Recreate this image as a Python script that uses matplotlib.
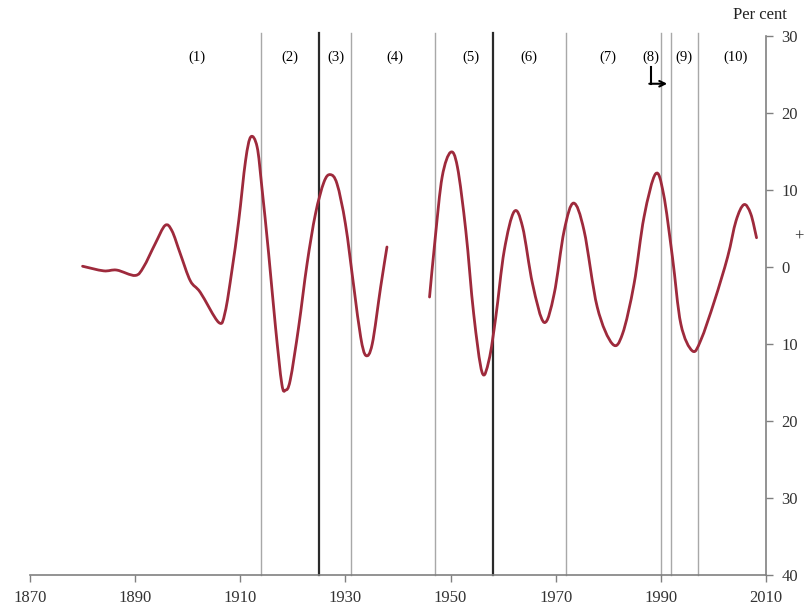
import numpy as np
import matplotlib
matplotlib.use("Agg")
import matplotlib.pyplot as plt
from matplotlib.path import Path
from matplotlib.patches import PathPatch

# growth cycle readings, two segments (gap over the war years)
years_a = [1880, 1884, 1886.5, 1890, 1891.6, 1893.8, 1895.7, 1897, 1898.6, 1900.5,
           1902.4, 1905.9, 1907.1, 1908.4, 1909.7, 1911, 1912, 1913.2, 1914.1,
           1915.4, 1916.7, 1917.9, 1918.6, 1919.5, 1921.1, 1922.7, 1924.3,
           1925.9, 1927.1, 1928.4, 1930, 1931.6, 1932.9, 1933.9, 1935.1,
           1936.7, 1937.9]
values_a = [0.1, -0.5, -0.4, -1.1, 0.0, 3.0, 5.4, 4.7, 1.7, -1.8,
            -3.3, -7.2, -5.9, -0.5, 6.0, 13.8, 16.9, 15.6, 10.4,
            1.7, -7.8, -15.2, -16.0, -14.7, -7.8, 0.4, 6.9,
            11.0, 12.0, 10.8, 5.6, -2.6, -9.1, -11.5, -10.0,
            -2.6, 2.6]

years_b = [1946, 1947.1, 1948.4, 1950, 1951.3, 1952.9, 1954.4, 1956, 1957.3,
           1958.6, 1960.2, 1962.1, 1963.7, 1965.6, 1967.8, 1969.7, 1971.6,
           1973.4, 1975.4, 1977.9, 1980.8, 1982.7, 1984.9, 1986.8,
           1989, 1990.5, 1992.2, 1993.8, 1996, 1997.6, 2000.2, 2002.7,
           2004.3, 2005.8, 2007.1, 2008.2]
values_b = [-3.9, 3.9, 11.7, 14.9, 13.0, 4.7, -6.1, -13.7, -12.1,
            -6.5, 2.1, 7.2, 5.2, -2.2, -7.2, -3.5, 4.7,
            8.3, 4.7, -5.2, -10.0, -8.7, -2.2, 6.5,
            12.1, 9.5, 1.3, -7.4, -10.9, -9.5, -4.4, 1.3,
            6.0, 8.1, 6.9, 3.8]

# period boundaries
major_breaks = [1925, 1958]
minor_breaks = [1914, 1931, 1947, 1972, 1990, 1992, 1997]

period_labels = ["(1)", "(2)", "(3)", "(4)", "(5)", "(6)", "(7)", "(8)", "(9)", "(10)"]
period_x = [1901.7, 1919.5, 1928.1, 1939.5, 1953.8, 1964.9, 1979.9, 1988.1, 1994.4, 2004.3]

x_ticks = [1870, 1890, 1910, 1930, 1950, 1970, 1990, 2010]
y_ticks = [30, 20, 10, 0, -10, -20, -30, -40]

CURVE = "#9e2a3c"
SERIF = "Liberation Serif"


def smooth_path(xs, ys):
    """ Excel-like smoothed line: Catmull-Rom segments as cubic beziers """
    pts = np.column_stack([xs, ys])
    verts = [pts[0]]
    codes = [Path.MOVETO]
    n = len(pts)
    for i in range(n - 1):
        p0 = pts[i - 1] if i > 0 else pts[i]
        p1 = pts[i]
        p2 = pts[i + 1]
        p3 = pts[i + 2] if i + 2 < n else pts[i + 1]
        c1 = p1 + (p2 - p0) / 6.0
        c2 = p2 - (p3 - p1) / 6.0
        verts += [c1, c2, p2]
        codes += [Path.CURVE4] * 3
    return Path(verts, codes)


fig = plt.figure(figsize=(8.05, 6.15), dpi=100)
ax = fig.add_axes([30 / 805, 1 - 575 / 615, 736 / 805, 539 / 615])

ax.set_xlim(1870, 2010)
ax.set_ylim(-40, 30)

for xb in minor_breaks:
    ax.plot([xb, xb], [-40, 30.4], color="#a8a8a8", lw=1.0, clip_on=False, zorder=1)
for xb in major_breaks:
    ax.plot([xb, xb], [-40, 30.4], color="#2a2a2a", lw=1.6, clip_on=False, zorder=1)

for xs, ys in [(years_a, values_a), (years_b, values_b)]:
    ax.add_patch(PathPatch(smooth_path(xs, ys), facecolor="none", edgecolor=CURVE,
                           lw=2.0, capstyle="round", joinstyle="round", zorder=3))

for lab, xp in zip(period_labels, period_x):
    ax.text(xp, 27.2, lab, ha="center", va="center", fontsize=10.5, family=SERIF)

# arrow from label (8) pointing right
ax.plot([1988.1, 1988.1], [26.0, 23.8], color="black", lw=1.5, zorder=4)
ax.annotate("", xy=(1991.2, 23.8), xytext=(1987.8, 23.8),
            arrowprops=dict(arrowstyle="->", color="black", lw=1.5,
                            shrinkA=0, shrinkB=0))

for s in ["top", "left"]:
    ax.spines[s].set_visible(False)
for s in ["bottom", "right"]:
    ax.spines[s].set_color("#808080")
    ax.spines[s].set_linewidth(1.2)

ax.set_xticks(x_ticks)
ax.set_xticklabels([str(t) for t in x_ticks], family=SERIF, fontsize=12)
ax.yaxis.tick_right()
ax.set_yticks(y_ticks)
ax.set_yticklabels([str(abs(t)) for t in y_ticks], family=SERIF, fontsize=12)
ax.tick_params(axis="both", direction="out", length=5, color="#808080", width=1.0,
               colors="#333333")
ax.tick_params(axis="x", pad=6)
ax.tick_params(axis="y", pad=6)

# sign marker above zero on the right axis
ax.text(1.038, 4.0, "+", transform=ax.get_yaxis_transform(), ha="left", va="center",
        fontsize=12, family=SERIF, color="#333333")

fig.text(760 / 805, 1 - 15 / 615, "Per cent", ha="center", va="center",
         fontsize=12, family=SERIF, color="#222222")

fig.savefig("out.png", dpi=100, facecolor="white")
